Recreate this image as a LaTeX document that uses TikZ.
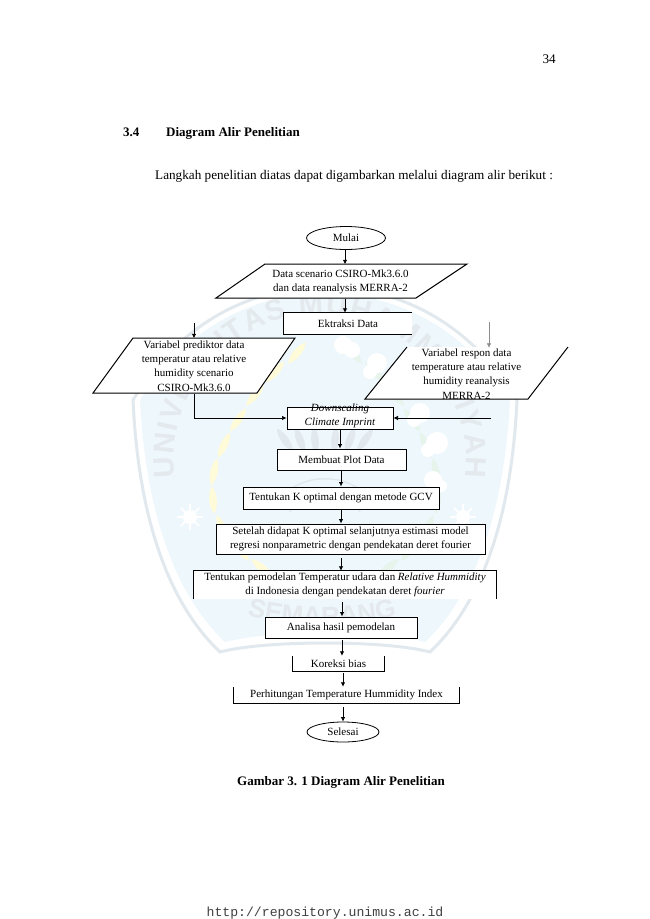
\documentclass[tikz,border=0pt]{standalone}
\usepackage{fontspec}
\setmainfont{Liberation Serif}
\setmonofont{Liberation Mono}
\newfontfamily\wmfont{Liberation Sans}
\usetikzlibrary{arrows.meta,calc,shapes.geometric,decorations.text}
\definecolor{wmblue}{HTML}{EDF7FC}
\definecolor{wmline}{HTML}{E2E9EE}
\definecolor{wmyellow}{HTML}{FFFAD8}
\definecolor{wmgreen}{HTML}{E6F4EC}
\definecolor{wmtext}{HTML}{E4E9ED}
\newcommand{\headfont}{\bfseries\fontsize{13}{15}\selectfont}
\tikzset{
  x=1pt,y=-1pt,
  txt/.style={font=\fontsize{11}{14}\selectfont,align=center,inner sep=0pt},
  pagetxt/.style={font=\fontsize{13.2}{15}\selectfont,inner sep=0pt},
  boxn/.style={txt,fill=white,minimum width=#1},
  boxfull/.style={boxn=#1,draw=black,line width=1pt},
  edgeline/.style={draw=black,line width=1pt},
  arr/.style={-{Latex[length=4.5pt,width=4.5pt]},black,line width=0.8pt},
  arrgray/.style={-{Latex[length=4.5pt,width=4.5pt]},black!45,line width=0.5pt},
  oval/.style={ellipse,draw=black,line width=0.8pt,fill=white,txt,minimum width=#1},
}
\newcommand{\wmleaf}[4]{\fill[#1,shift={(#2,#3)},rotate=#4] (-14,0) .. controls (-6,-5) and (6,-5) .. (14,0) .. controls (6,5) and (-6,5) .. (-14,0) -- cycle;}
\begin{document}
\begin{tikzpicture}
\useasboundingbox (0,0) rectangle (650,919);
\fill[white] (0,0) rectangle (650,919);
% --- watermark -----------------------------------------------------
\fill[wmblue] (140,400) .. controls (190,320) and (265,293) .. (325,293)
  .. controls (385,293) and (460,320) .. (510,400)
  .. controls (505,500) and (480,590) .. (425,642)
  .. controls (380,630) and (270,630) .. (225,642)
  .. controls (170,590) and (145,500) .. (140,400) -- cycle;
\draw[wmline,line width=3pt] (133,400) .. controls (185,315) and (260,287) .. (325,287)
  .. controls (390,287) and (465,315) .. (517,400)
  .. controls (512,510) and (485,600) .. (430,652)
  .. controls (385,640) and (265,640) .. (220,652)
  .. controls (165,600) and (138,510) .. (133,400) -- cycle;
\foreach \lx/\ly/\lr in {297/353/50,275/372/48,255/395/50,238/420/55,224/445/65,214/472/78,213/500/95,222/528/112,240/550/130,262/568/140}
  {\wmleaf{wmyellow}{\lx}{\ly}{\lr}}
\foreach \lx/\ly/\lr in {353/353/130,375/372/132,395/395/130,412/420/125,426/445/115,436/472/102,437/500/85,428/528/68,410/550/50,388/568/40}
  {\wmleaf{wmgreen}{\lx}{\ly}{\lr}}
\foreach \cx/\cy/\r in {343/345/9,352/350/8,377/363/10,370/372/7,420/413/10,414/420/7,437/443/11,428/450/7,433/480/9,441/486/6}
  \fill[white] (\cx,\cy) circle[radius=\r];
\foreach \lx/\lr in {285/125,300/110,315/95,335/85,350/70,365/55}
  {\wmleaf{wmline}{\lx}{440}{\lr}}
\draw[wmline,line width=1.5pt] (280,505) .. controls (290,470) and (360,470) .. (370,505);
\draw[wmline,line width=1.5pt] (290,512) .. controls (300,485) and (350,485) .. (360,512);
\foreach \cx in {190,463} {
  \fill[white] (\cx,517) circle[radius=7];
  \foreach \ang in {0,45,...,315}
    \draw[white,line width=1.5pt] (\cx,517) -- ++(\ang:13);
}
\begin{scope}[y=1pt]
\path[decorate,decoration={text along path,text align={fit to path},
   text={|\wmfont\bfseries\fontsize{29}{29}\selectfont\color{wmtext}|UNIVERSITAS MUHAMMADIYAH}}]
   (320,-460) ++(187:146) arc[start angle=187,end angle=-7,radius=146];
\path[decorate,decoration={text along path,text align=center,
   text={|\wmfont\bfseries\fontsize{26}{26}\selectfont\color{wmtext}|SEMARANG}}]
   (232,-610) .. controls (277,-630) and (367,-630) .. (412,-610);
\end{scope}
% --- page text -----------------------------------------------------
\node[pagetxt,anchor=base east] (page) at (556,63) {34};
\node[inner sep=0pt,font=\headfont,anchor=base west] (secnum) at (123,136) {3.4};
\node[inner sep=0pt,font=\headfont,anchor=base west] (sectitle) at (166,136) {Diagram Alir Penelitian};
\node[pagetxt,anchor=base west] (intro) at (155,179) {Langkah penelitian diatas dapat digambarkan melalui diagram alir berikut :};
\node[inner sep=0pt,font=\headfont,anchor=base] (caption) at (341,785) {Gambar 3. 1 Diagram Alir Penelitian};
\node[inner sep=0pt,font=\ttfamily\fontsize{13.15}{15}\selectfont,text=black!75] (footer) at (325,913) {http://repository.unimus.ac.id};
% --- parallelograms ------------------------------------------------
\filldraw[fill=white,edgeline] (265,264) -- (467,264) -- (416,298) -- (216,298) -- cycle;
\filldraw[fill=white,edgeline] (133,338) -- (295,338) -- (257,393) -- (93,393) -- cycle;
\fill[white] (407,347) -- (568,347) -- (528,399) -- (365,399) -- cycle;
\draw[edgeline] (407,347) -- (365,399) -- (528,399) -- (568,347);
\node[txt,minimum height=34] (data) at (340.5,281.5) {Data scenario CSIRO-Mk3.6.0\\dan data reanalysis MERRA-2};
\node[txt,minimum height=55,font=\fontsize{11}{14.3}\selectfont] (pred) at (194,366) {Variabel prediktor data\\temperatur atau relative\\humidity scenario\\CSIRO-Mk3.6.0};
\node[txt,minimum height=52,font=\fontsize{11}{14.3}\selectfont] (resp) at (466.5,374) {Variabel respon data\\temperature atau relative\\humidity reanalysis\\MERRA-2};
% --- boxes -----------------------------------------------------------
\node[oval=79,minimum height=23] (mulai) at (346,238) {Mulai};
\node[boxn=128,minimum height=21] (ekstraksi) at (348,323.5) {Ektraksi Data};
\draw[edgeline] (ekstraksi.north east) -- (ekstraksi.north west) -- (ekstraksi.south west) -- (ekstraksi.south east);
\node[boxfull=106,minimum height=22] (down) at (340,418) {\smash{\begin{tabular}{@{}c@{}}\itshape Downscaling\\\itshape Climate Imprint\end{tabular}}};
\node[boxfull=129,minimum height=21] (plot) at (341.5,459.5) {Membuat Plot Data};
\node[boxfull=196,minimum height=22] (gcv) at (341,498) {Tentukan K optimal dengan metode GCV};
\node[boxfull=269,minimum height=30] (estim) at (350.5,539) {Setelah didapat K optimal selanjutnya estimasi model\\regresi nonparametric dengan pendekatan deret fourier};
\node[boxn=302,minimum height=28] (model) at (345,585) {Tentukan pemodelan Temperatur udara dan \textit{Relative Hummidity}\\di Indonesia dengan pendekatan deret \textit{fourier}};
\draw[edgeline] (model.south west) -- (model.north west) -- (model.north east) -- (model.south east);
\node[boxfull=152,minimum height=21] (analisa) at (341,627.5) {Analisa hasil pemodelan};
\node[boxn=91,minimum height=15] (koreksi) at (338.5,663.5) {Koreksi bias};
\draw[edgeline] (koreksi.north west) -- (koreksi.south west) -- (koreksi.south east) -- (koreksi.north east);
\node[boxn=225,minimum height=16] (thi) at (346.5,695) {Perhitungan Temperature Hummidity Index};
\draw[edgeline] (thi.north west) -- (thi.south west) -- (thi.south east) -- (thi.north east);
\node[oval=72,minimum height=20] (selesai) at (343,732) {Selesai};
% --- spines and free ends ---------------------------------------------
\coordinate (sa) at (345,0);
\coordinate (sb) at (340,0);
\coordinate (sc) at (341,0);
\coordinate (sd) at (342,0);
\coordinate (se) at (343,0);
\coordinate (pfree) at (194,323);
\coordinate (rfree) at (489,322);
\coordinate (rside) at (491,418);
\coordinate (estimout) at (341,558);
\coordinate (modelout) at (342,602);
\coordinate (analisaout) at (342,640);
\coordinate (koreksiout) at (343,673);
\coordinate (thiout) at (343,707);
% --- connectors ------------------------------------------------------
\draw[arr] (sa |- mulai.south) -- (sa |- data.north);
\draw[arr] (sa |- data.south) -- (sa |- ekstraksi.north);
\draw[arr] (pfree) -- (pred.north);
\draw[arrgray] (rfree) -- (rfree |- resp.north);
\draw[arr,line width=0.6pt] (pred.south) |- (down.west);
\draw[arr,line width=0.6pt] (rside) -- (down.east);
\draw[arr] (sb |- down.south) -- (sb |- plot.north);
\draw[arr] (sc |- plot.south) -- (sc |- gcv.north);
\draw[arr] (sc |- gcv.south) -- (sc |- estim.north);
\draw[arr] (estimout) -- (sc |- model.north);
\draw[arr] (modelout) -- (sd |- analisa.north);
\draw[arr] (analisaout) -- (sd |- koreksi.north);
\draw[arr] (koreksiout) -- (se |- thi.north);
\draw[arr] (thiout) -- (se |- selesai.north);
\end{tikzpicture}
\end{document}
